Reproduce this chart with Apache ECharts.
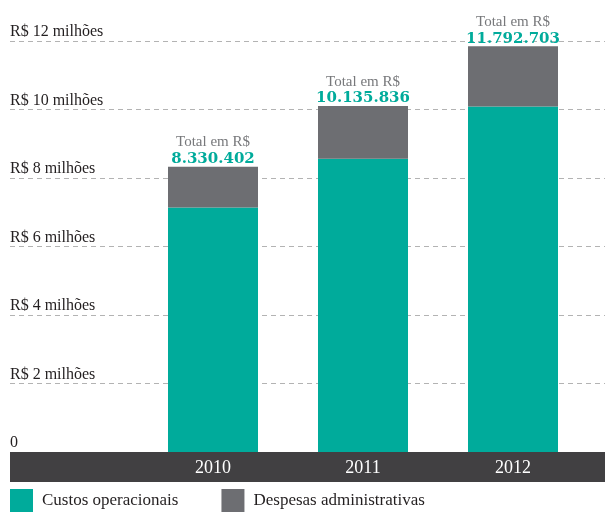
<!DOCTYPE html>
<html>
<head>
<meta charset="utf-8">
<script src="https://cdn.jsdelivr.net/npm/echarts@6/dist/echarts.min.js"></script>
<style>
  html, body { margin: 0; padding: 0; background: #fff; }
  #chart { width: 605px; height: 515px; }
</style>
</head>
<body>
<div id="chart"></div>
<script>
// dados (em milhões de R$)
const anos = ['2010', '2011', '2012']
const custosOperacionais = [7.14, 8.56, 10.09]
const despesasAdministrativas = [1.19, 1.54, 1.76]
const totais = ['8.330.402', '10.135.836', '11.792.703']
const yTicks = ['0', 'R$ 2 milhões', 'R$ 4 milhões', 'R$ 6 milhões', 'R$ 8 milhões', 'R$ 10 milhões', 'R$ 12 milhões']

const TEAL = '#00ab9b'
const CINZA = '#6d6e72'
const FAIXA = '#414042'
const FONTE = '"Liberation Serif", "DejaVu Serif", serif'

const chart = echarts.init(document.getElementById('chart'))

chart.setOption({
    animation: false,
    textStyle: { fontFamily: FONTE },
    grid: [
        // barras
        { left: 138, right: 17, top: 41, bottom: 63 },
        // linhas de grade e rótulos
        { left: 10, right: 0, top: 41, bottom: 63 },
    ],
    legend: {
        left: 10,
        bottom: 3,
        padding: 0,
        itemWidth: 23,
        itemHeight: 23,
        itemGap: 43,
        icon: 'rect',
        textStyle: { fontFamily: FONTE, fontSize: 17, color: '#231f20', padding: [0, 0, 0, 4] },
        data: ['Custos operacionais', 'Despesas administrativas'],
    },
    xAxis: [
        {
            type: 'category',
            gridIndex: 0,
            data: anos,
            z: 5,
            axisLine: { show: false },
            axisTick: { show: false },
            axisLabel: { color: '#fff', fontSize: 18, margin: 7, fontFamily: FONTE },
        },
        {
            // faixa escura abaixo das barras
            type: 'value',
            gridIndex: 1,
            min: 0,
            max: 1,
            offset: 15,
            z: 0,
            axisLine: { show: true, onZero: false, lineStyle: { color: FAIXA, width: 30, cap: 'butt' } },
            axisTick: { show: false },
            axisLabel: { show: false },
            splitLine: { show: false },
        },
    ],
    yAxis: [
        {
            type: 'value',
            gridIndex: 0,
            min: 0,
            max: 12,
            interval: 2,
            show: false,
            splitLine: { show: false },
        },
        {
            type: 'value',
            gridIndex: 1,
            min: 0,
            max: 12,
            interval: 2,
            axisLine: { show: false },
            axisTick: { show: false },
            axisLabel: {
                inside: true,
                margin: 0,
                verticalAlign: 'bottom',
                padding: [0, 0, 1, 0],
                fontSize: 16,
                color: '#231f20',
                fontFamily: FONTE,
                formatter: (v) => yTicks[Math.round(v / 2)],
            },
            splitLine: {
                lineStyle: {
                    type: [5, 4],
                    color: ['rgba(0,0,0,0)', '#b3b3b3', '#b3b3b3', '#b3b3b3', '#b3b3b3', '#b3b3b3', '#b3b3b3'],
                },
            },
        },
    ],
    series: [
        {
            name: 'Custos operacionais',
            type: 'bar',
            stack: 'total',
            xAxisIndex: 0,
            yAxisIndex: 0,
            barWidth: 90,
            itemStyle: { color: TEAL },
            data: custosOperacionais,
        },
        {
            name: 'Despesas administrativas',
            type: 'bar',
            stack: 'total',
            xAxisIndex: 0,
            yAxisIndex: 0,
            barWidth: 90,
            itemStyle: { color: CINZA },
            data: despesasAdministrativas,
            // total acima de cada barra
            label: {
                show: true,
                position: 'top',
                distance: 0,
                formatter: (p) => '{a|Total em R$}\n{b|' + totais[p.dataIndex] + '}',
                rich: {
                    a: { fontFamily: FONTE, fontSize: 15, color: '#77787b', lineHeight: 19 },
                    b: { fontFamily: '"DejaVu Serif", serif', fontSize: 15, fontWeight: 'bold', color: TEAL, lineHeight: 15 },
                },
            },
        },
    ],
})
</script>
</body>
</html>
